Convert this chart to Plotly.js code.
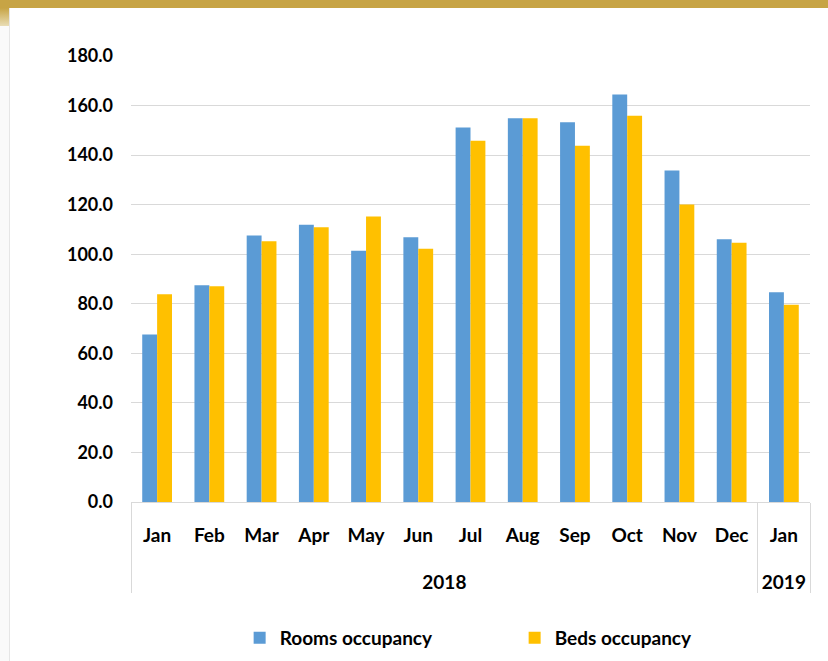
<!DOCTYPE html>
<html>
<head>
<meta charset="utf-8">
<script src="https://cdn.plot.ly/plotly-3.0.1.min.js"></script>
<style>
  html, body { margin: 0; padding: 0; background: #ffffff; }
  #wrap { position: relative; width: 828px; height: 661px; overflow: hidden; background: #fff; }
  #chart { position: absolute; left: 0; top: 0; width: 828px; height: 661px; }
  #topbar { position: absolute; left: 0; top: 0; width: 828px; height: 8px; background: #C7A445; z-index: 5; }
  #lefttab { position: absolute; left: 0; top: 8px; width: 9px; height: 18px; background: linear-gradient(#C7A445, #E9DDB5); z-index: 5; }
  #leftline { position: absolute; left: 9px; top: 8px; width: 1px; height: 653px; background: #E6E6E6; z-index: 5; }
  #leftfill { position: absolute; left: 0; top: 26px; width: 9px; height: 635px; background: #FAFAFA; z-index: 5; }
</style>
</head>
<body>
<div id="wrap">
  <div id="chart"></div>
  <div id="topbar"></div>
  <div id="lefttab"></div>
  <div id="leftfill"></div>
  <div id="leftline"></div>
</div>
<script>
const months = ['Jan','Feb','Mar','Apr','May','Jun','Jul','Aug','Sep','Oct','Nov','Dec','Jan'];
const years = ['2018','2018','2018','2018','2018','2018','2018','2018','2018','2018','2018','2018','2019'];
const roomsOccupancy = [67.6, 87.5, 107.6, 111.9, 101.4, 106.8, 151.1, 154.9, 153.3, 164.5, 133.8, 106.0, 84.7];
const bedsOccupancy  = [83.8, 87.1, 105.2, 110.9, 115.2, 102.2, 145.8, 154.9, 143.8, 155.9, 120.1, 104.6, 79.6];
const seriesNames = ['Rooms occupancy', 'Beds occupancy'];
const yTicks = [0, 20, 40, 60, 80, 100, 120, 140, 160, 180];

const fontFam = 'Lato, "Open Sans", "DejaVu Sans", sans-serif';

// spacing helpers for the two label rows (invisible padding only)
const pad = '<span style="font-size:30px;color:rgba(0,0,0,0)">.</span>';
const monthLabels = months.map(m => pad + m + pad);
const yearLabels = years.map(y => '<br>' + y);
const xCats = [yearLabels, monthLabels];

const traces = [
  {
    type: 'bar',
    name: seriesNames[0],
    x: xCats,
    y: roomsOccupancy,
    marker: { color: '#5B9BD5', line: { width: 0 } }
  },
  {
    type: 'bar',
    name: seriesNames[1],
    x: xCats,
    y: bedsOccupancy,
    marker: { color: '#FFC000', line: { width: 0 } }
  }
];

const layout = {
  width: 828,
  height: 661,
  paper_bgcolor: '#ffffff',
  plot_bgcolor: '#ffffff',
  margin: { l: 131, r: 18, t: 56, b: 159, autoexpand: false },
  barmode: 'group',
  bargap: 0.43,
  bargroupgap: 0,
  font: { family: fontFam, color: '#000000', size: 19, weight: 'bold' },
  xaxis: {
    type: 'multicategory',
    automargin: false,
    tickangle: 0,
    showline: true,
    linecolor: '#D9D9D9',
    linewidth: 1,
    showgrid: false,
    ticks: '',
    showdividers: true,
    dividercolor: '#D9D9D9',
    dividerwidth: 1,
    tickfont: { family: fontFam, size: 19, color: '#000000', weight: 'bold' },
    ticklabelstandoff: 16
  },
  yaxis: {
    automargin: false,
    range: [0, 180],
    tickvals: yTicks,
    tickformat: '.1f',
    showgrid: true,
    gridcolor: '#D9D9D9',
    gridwidth: 1,
    zeroline: false,
    showline: false,
    ticks: '',
    tickfont: { family: fontFam, size: 18, color: '#000000', weight: 'bold' },
    ticklabelstandoff: 17
  },
  legend: {
    orientation: 'h',
    x: 0.16,
    xanchor: 'left',
    yref: 'container',
    y: 0.035,
    yanchor: 'middle',
    font: { family: fontFam, size: 19, color: '#000000', weight: 'bold' },
    itemwidth: 30,
    entrywidth: 230,
    entrywidthmode: 'pixels'
  },
  showlegend: true
};

Plotly.newPlot('chart', traces, layout, { displayModeBar: false, staticPlot: true });
</script>
</body>
</html>
